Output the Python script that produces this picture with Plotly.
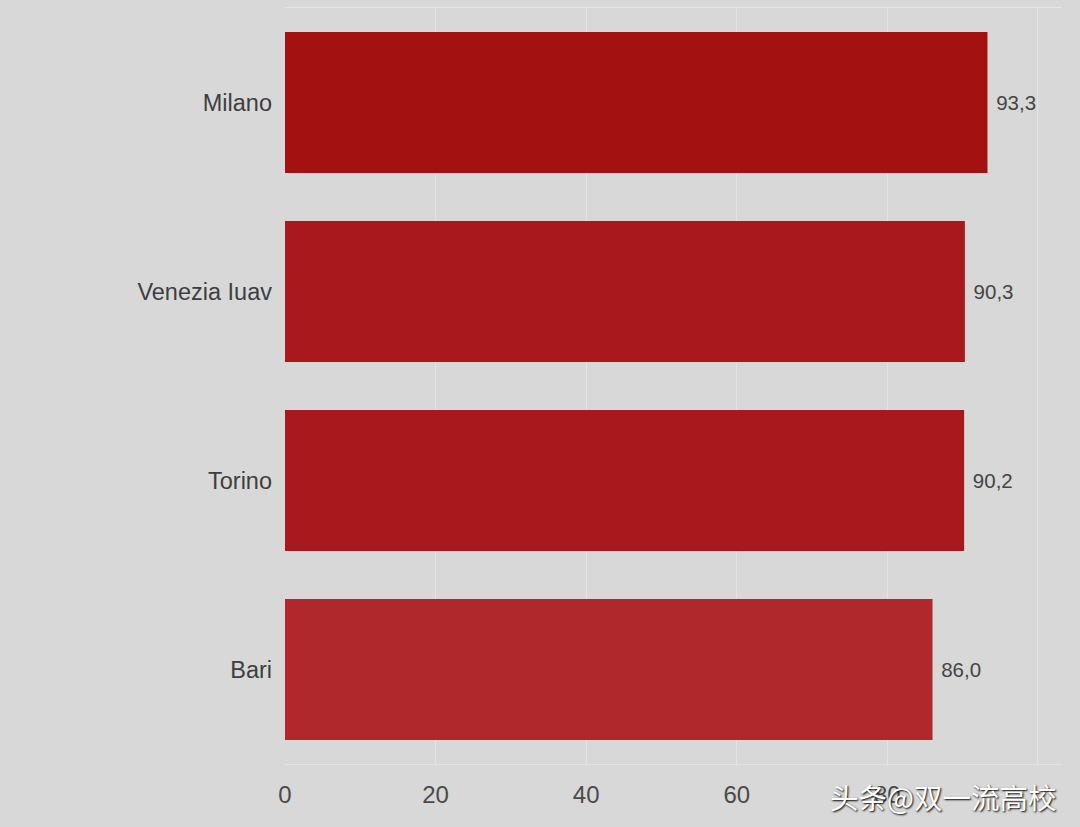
import plotly.graph_objects as go

categories = ["Bari", "Torino", "Venezia Iuav", "Milano"]
values = [86.0, 90.2, 90.3, 93.3]
bar_colors = ["#b0282b", "#a8181d", "#a8181d", "#a31111"]
x_ticks = [0, 20, 40, 60, 80, 100]
x_tick_labels = ["0", "20", "40", "60", "80", ""]
watermark = "头条@双一流高校"

bg = "#d8d8d8"
font_family = "Liberation Sans, Arial, Helvetica, sans-serif"

fig = go.Figure(
    go.Bar(
        x=values,
        y=categories,
        orientation="h",
        marker=dict(color=bar_colors, line=dict(width=0)),
        texttemplate=" %{x:.1f}",
        textposition="outside",
        textfont=dict(size=20.5, color="#454545", family=font_family),
        cliponaxis=False,
        width=0.746,
    )
)

fig.update_layout(
    width=1080,
    height=827,
    paper_bgcolor=bg,
    plot_bgcolor=bg,
    separators=",.",
    margin=dict(l=285, r=18, t=8, b=63),
    showlegend=False,
    font=dict(family=font_family, color="#444444"),
    xaxis=dict(
        range=[0, 103.2],
        tickvals=x_ticks,
        ticktext=x_tick_labels,
        showgrid=True,
        gridcolor="#e3e3e3",
        gridwidth=1,
        zeroline=False,
        showline=True,
        linecolor="#e3e3e3",
        mirror=True,
        tickfont=dict(size=24, color="#4a4a4a"),
        ticks="",
        ticklabelstandoff=9,
    ),
    yaxis=dict(
        range=[-0.5, 3.5],
        showgrid=False,
        zeroline=False,
        showline=False,
        tickfont=dict(size=23.5, color="#3e3e3e"),
        ticks="",
        ticklabelstandoff=12,
    ),
    annotations=[
        dict(
            text=watermark,
            x=1.0, y=0, xref="paper", yref="paper",
            xanchor="right", yanchor="top",
            xshift=-4, yshift=-10,
            showarrow=False,
            font=dict(size=28.5, color="#ffffff", family="Noto Sans CJK SC",
                      shadow="1px 1px 2px #000000"),
        )
    ],
)

fig.write_html(
    "out.html",
    config={"displayModeBar": False},
    post_script="document.body.style.margin='0';document.body.style.overflow='hidden';",
)
